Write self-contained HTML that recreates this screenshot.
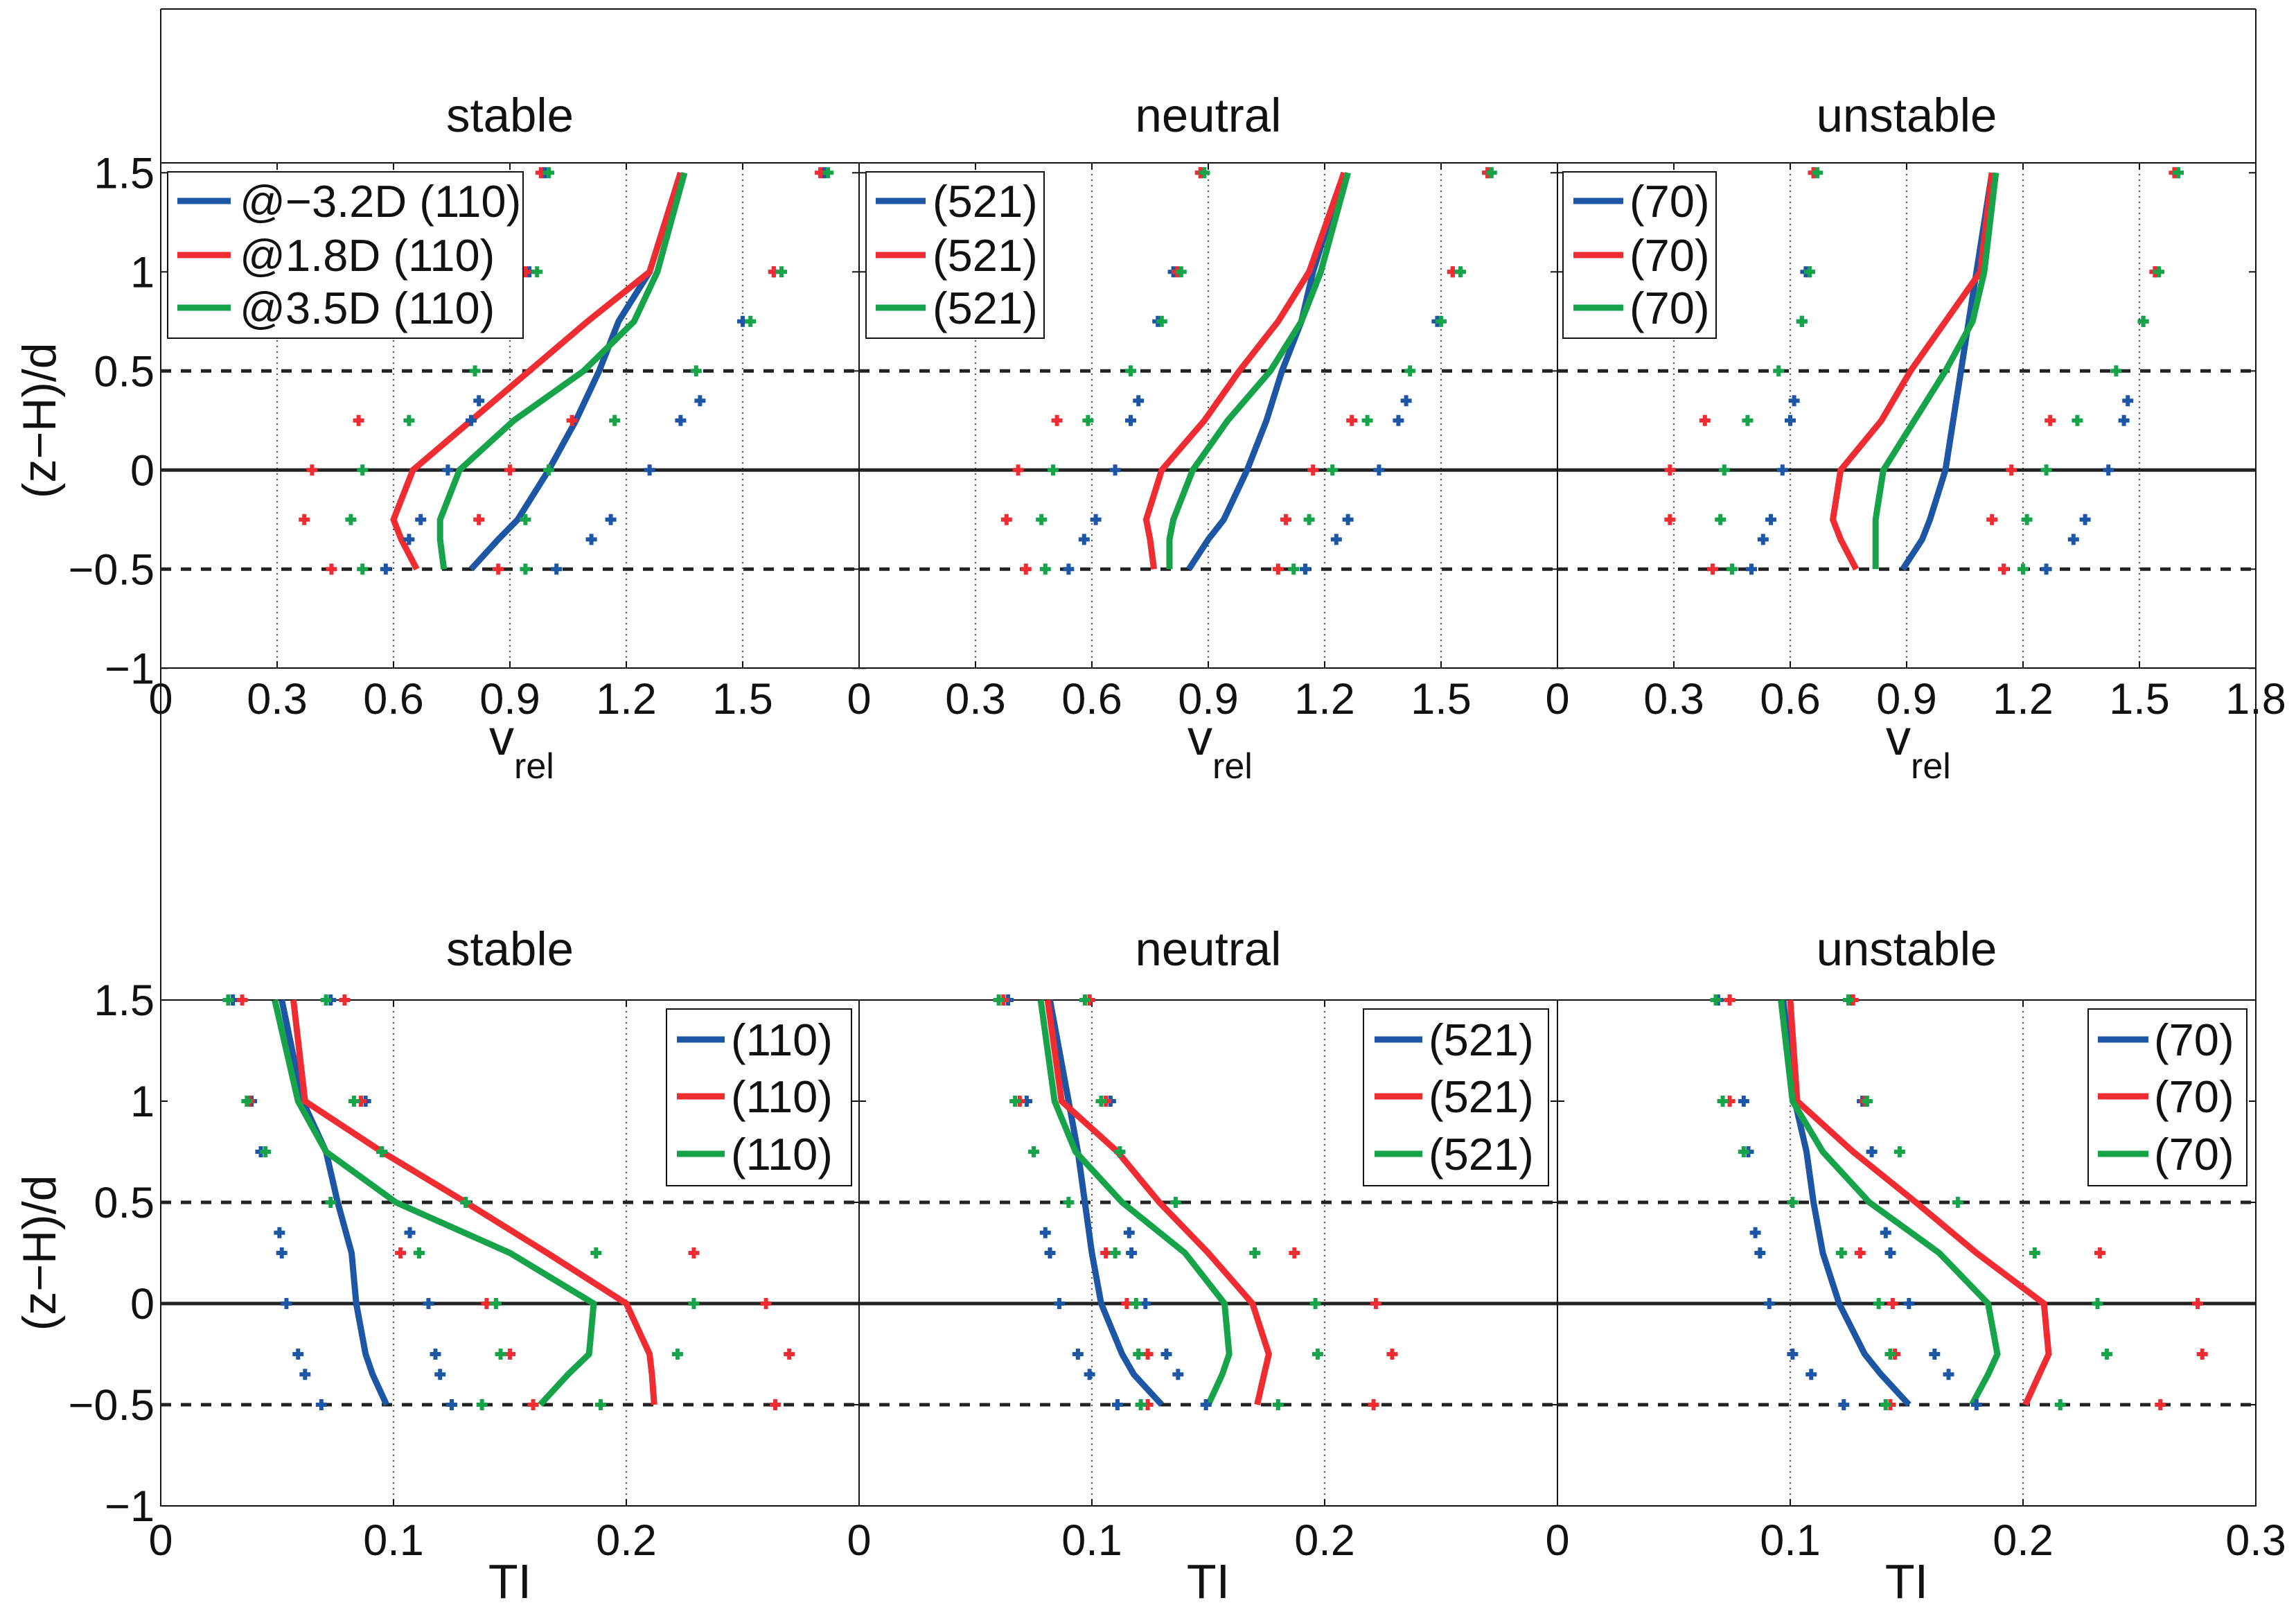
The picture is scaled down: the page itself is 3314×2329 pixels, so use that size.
<!DOCTYPE html>
<html><head><meta charset="utf-8"><style>
html,body{margin:0;padding:0;background:#fff;}
svg{display:block;font-family:"Liberation Sans",Arial,sans-serif;}
</style></head><body>
<svg id="chart" xmlns="http://www.w3.org/2000/svg" width="3314" height="2329" viewBox="0 0 3314 2329"></svg>
<script>
// ---- data ----
const lineZ = [1.5, 1, 0.75, 0.5, 0.25, 0, -0.25, -0.35, -0.5];
const pointZ = [1.5, 1, 0.75, 0.5, 0.35, 0.25, 0, -0.25, -0.35, -0.5];
const panelTitles = ["stable", "neutral", "unstable"];
const vTicks = [0, 0.3, 0.6, 0.9, 1.2, 1.5];
const tiTicks = [0, 0.1, 0.2];
const yTicks = [1.5, 1, 0.5, 0, -0.5, -1];
const yTickLabels = ["1.5", "1", "0.5", "0", "\u22120.5", "\u22121"];
const topLegendLabels = [["@\u22123.2D (110)", "@1.8D (110)", "@3.5D (110)"], ["(521)", "(521)", "(521)"], ["(70)", "(70)", "(70)"]];
const botLegendLabels = [["(110)", "(110)", "(110)"], ["(521)", "(521)", "(521)"], ["(70)", "(70)", "(70)"]];

const vStableBlue = [1.34,1.26,1.18,1.13,1.07,1.00,0.92,0.87,0.80];
const vStableRed = [1.34,1.26,1.10,0.95,0.80,0.65,0.60,0.62,0.66];
const vStableGreen = [1.35,1.28,1.22,1.09,0.91,0.77,0.72,0.72,0.73];
const vNeutralBlue = [1.25,1.17,1.14,1.09,1.05,1.00,0.94,0.90,0.85];
const vNeutralRed = [1.25,1.16,1.08,0.98,0.89,0.78,0.74,0.75,0.76];
const vNeutralGreen = [1.26,1.19,1.14,1.06,0.95,0.86,0.81,0.80,0.80];
const vUnstableBlue = [1.12,1.08,1.06,1.04,1.02,1.00,0.96,0.94,0.89];
const vUnstableRed = [1.12,1.09,1.00,0.91,0.835,0.73,0.71,0.73,0.77];
const vUnstableGreen = [1.13,1.10,1.07,1.00,0.92,0.84,0.82,0.82,0.82];

const vStableBlueLo = [0.99,0.95,0.80,null,0.82,0.80,0.74,0.67,0.64,0.58];
const vStableBlueHi = [1.71,1.58,1.50,null,1.39,1.34,1.26,1.16,1.11,1.02];
const vStableRedLo = [0.98,0.94,null,null,null,0.51,0.39,0.37,null,0.44];
const vStableRedHi = [1.70,1.58,null,null,null,1.06,0.90,0.82,null,0.87];
const vStableGreenLo = [1.00,0.97,0.81,0.81,null,0.64,0.52,0.49,null,0.52];
const vStableGreenHi = [1.72,1.60,1.52,1.38,null,1.17,1.00,0.94,null,0.94];
const vNeutralBlueLo = [0.88,0.81,0.77,null,0.72,0.70,0.66,0.61,0.58,0.54];
const vNeutralBlueHi = [1.62,1.53,1.49,null,1.41,1.39,1.34,1.26,1.23,1.15];
const vNeutralRedLo = [0.88,0.82,null,null,null,0.51,0.41,0.38,null,0.43];
const vNeutralRedHi = [1.62,1.53,null,null,null,1.27,1.17,1.10,null,1.08];
const vNeutralGreenLo = [0.89,0.83,0.78,0.70,null,0.59,0.50,0.47,null,0.48];
const vNeutralGreenHi = [1.63,1.55,1.50,1.42,null,1.31,1.22,1.16,null,1.12];
const vUnstableBlueLo = [0.66,0.64,0.63,null,0.61,0.60,0.58,0.55,0.53,0.50];
const vUnstableBlueHi = [1.60,1.54,1.51,null,1.47,1.46,1.42,1.36,1.33,1.26];
const vUnstableRedLo = [0.66,0.65,null,null,null,0.38,0.29,0.29,null,0.40];
const vUnstableRedHi = [1.59,1.54,null,null,null,1.27,1.17,1.12,null,1.15];
const vUnstableGreenLo = [0.67,0.65,0.63,0.57,null,0.49,0.43,0.42,null,0.45];
const vUnstableGreenHi = [1.60,1.55,1.51,1.44,null,1.34,1.26,1.21,null,1.20];

const tiStableBlue = [0.052,0.061,0.071,0.076,0.082,0.084,0.088,0.091,0.097];
const tiStableRed = [0.057,0.062,0.095,0.131,0.166,0.200,0.210,0.211,0.212];
const tiStableGreen = [0.049,0.059,0.071,0.101,0.150,0.186,0.184,0.175,0.163];
const tiNeutralBlue = [0.082,0.090,0.094,0.097,0.100,0.104,0.113,0.118,0.130];
const tiNeutralRed = [0.081,0.087,0.111,0.129,0.150,0.169,0.176,0.174,0.171];
const tiNeutralGreen = [0.078,0.084,0.093,0.113,0.140,0.157,0.159,0.156,0.150];
const tiUnstableBlue = [0.097,0.102,0.107,0.110,0.114,0.121,0.132,0.139,0.151];
const tiUnstableRed = [0.100,0.103,0.127,0.154,0.180,0.209,0.211,0.207,0.201];
const tiUnstableGreen = [0.096,0.101,0.114,0.134,0.164,0.185,0.189,0.185,0.178];

const tiStableBlueLo = [0.031,0.039,0.043,null,0.051,0.052,0.054,0.059,0.062,0.069];
const tiStableBlueHi = [0.073,0.088,0.095,null,0.107,0.111,0.115,0.118,0.120,0.125];
const tiStableRedLo = [0.035,0.038,null,null,null,0.103,0.140,0.150,null,0.160];
const tiStableRedHi = [0.079,0.086,null,null,null,0.229,0.260,0.270,null,0.264];
const tiStableGreenLo = [0.029,0.037,0.045,0.073,null,0.111,0.144,0.146,null,0.138];
const tiStableGreenHi = [0.071,0.083,0.095,0.131,null,0.187,0.229,0.222,null,0.189];
const tiNeutralBlueLo = [0.064,0.072,null,null,0.080,0.082,0.086,0.094,0.099,0.111];
const tiNeutralBlueHi = [0.099,0.108,0.112,null,0.116,0.117,0.123,0.132,0.137,0.149];
const tiNeutralRedLo = [0.062,0.069,null,null,null,0.106,0.115,0.124,null,0.124];
const tiNeutralRedHi = [0.099,0.106,null,null,null,0.187,0.222,0.229,null,0.221];
const tiNeutralGreenLo = [0.060,0.067,0.075,0.090,null,0.110,0.119,0.120,null,0.121];
const tiNeutralGreenHi = [0.097,0.104,0.112,0.136,null,0.170,0.196,0.197,null,0.180];
const tiUnstableBlueLo = [0.069,0.080,0.082,null,0.085,0.087,0.091,0.101,0.109,0.123];
const tiUnstableBlueHi = [0.126,0.131,0.135,null,0.141,0.143,0.151,0.162,0.168,0.180];
const tiUnstableRedLo = [0.074,0.074,null,null,null,0.130,0.144,0.145,null,0.143];
const tiUnstableRedHi = [0.127,0.132,null,null,null,0.233,0.275,0.277,null,0.259];
const tiUnstableGreenLo = [0.068,0.071,0.080,0.101,null,0.122,0.138,0.143,null,0.141];
const tiUnstableGreenHi = [0.125,0.133,0.147,0.172,null,0.205,0.232,0.236,null,0.216];

// ---- drawing ----
const NS = "http://www.w3.org/2000/svg";
const svg = document.getElementById("chart");
const COLORS = ["#1e56a6", "#ee2c31", "#16a34a"];
const SNAMES = ["blue", "red", "green"];
function mk(tag, attrs, parent) {
  const e = document.createElementNS(NS, tag);
  for (const k in attrs) e.setAttribute(k, attrs[k]);
  (parent || svg).appendChild(e);
  return e;
}
const X0 = 232, PW = 1008;
const TOP = {top: 235, ymaxV: 1.55, yUnit: 286, bottom: 964, xmax: 1.8};
const BOT = {top: 1443, ymaxV: 1.5, yUnit: 292, bottom: 2173, xmax: 0.3};

let fr = mk("line", {x1: X0, y1: 13, x2: X0 + 3 * PW, y2: 13, stroke: "#111", "stroke-width": 2});


fr = mk("line", {x1: X0, y1: 13, x2: X0, y2: 2173, stroke: "#111", "stroke-width": 2});


fr = mk("line", {x1: X0 + 3 * PW, y1: 13, x2: X0 + 3 * PW, y2: 2173, stroke: "#111", "stroke-width": 2});



function plus(g, cx, cy, color) {
  const p = mk("path", {d: `M${cx - 8} ${cy}H${cx + 8}M${cx} ${cy - 8}V${cy + 8}`, stroke: color, "stroke-width": 6, fill: "none"}, g);
  
  
}

function drawRow(cfg, rowName, ticks, tickFmt, lines, points, legendLabels, legendBoxes, titleY, tickLabelY, xlabel) {
  const ys = v => cfg.top + (cfg.ymaxV - v) * cfg.yUnit;
  for (let p = 0; p < 3; p++) {
    const px = X0 + p * PW;
    const xs = v => px + v / cfg.xmax * PW;
    const g = mk("g", {});
    
    
    const t = mk("text", {x: px + PW / 2, y: titleY, "font-size": 69, "text-anchor": "middle", fill: "#111"}, g);
    t.textContent = panelTitles[p];
    
    
    ticks.forEach((tv, i) => {
      const x = xs(tv);
      if (i > 0) {
        const gl = mk("line", {x1: x, y1: cfg.top, x2: x, y2: cfg.bottom, stroke: "#222", "stroke-width": 1.6, "stroke-dasharray": "2 6"}, g);
        
        
        mk("line", {x1: x, y1: cfg.top, x2: x, y2: cfg.top + 10, stroke: "#111", "stroke-width": 2}, g);
        mk("line", {x1: x, y1: cfg.bottom, x2: x, y2: cfg.bottom - 10, stroke: "#111", "stroke-width": 2}, g);
      }
      const tl = mk("text", {x: x, y: tickLabelY, "font-size": 63, "text-anchor": "middle", fill: "#111"}, g);
      tl.textContent = tickFmt[i];
      
      
    });
    if (p === 2) {
      const tl = mk("text", {x: px + PW, y: tickLabelY, "font-size": 63, "text-anchor": "middle", fill: "#111"}, g);
      tl.textContent = cfg.xmax.toString();
      
      
    }
    yTicks.forEach((yv, i) => {
      const y = ys(yv);
      mk("line", {x1: px, y1: y, x2: px + 10, y2: y, stroke: "#111", "stroke-width": 2}, g);
      mk("line", {x1: px + PW, y1: y, x2: px + PW - 10, y2: y, stroke: "#111", "stroke-width": 2}, g);
      if (p === 0) {
        const tl = mk("text", {x: 223, y: y + 22, "font-size": 63, "text-anchor": "end", fill: "#111"}, g);
        tl.textContent = yTickLabels[i];
        
        
      }
    });
    const box = mk("rect", {x: px, y: cfg.top, width: PW, height: cfg.bottom - cfg.top, fill: "none", stroke: "#111", "stroke-width": 2}, g);
    
    
    [0.5, -0.5].forEach(v => {
      const d = mk("line", {x1: px, y1: ys(v), x2: px + PW, y2: ys(v), stroke: "#222", "stroke-width": 5, "stroke-dasharray": "15 14"}, g);
      
      
    });
    const zl = mk("line", {x1: px, y1: ys(0), x2: px + PW, y2: ys(0), stroke: "#222", "stroke-width": 5}, g);
    
    
    for (let s = 0; s < 3; s++) {
      const vals = lines[p][s];
      const d = vals.map((v, i) => (i ? "L" : "M") + xs(v).toFixed(1) + " " + ys(lineZ[i]).toFixed(1)).join("");
      const pl = mk("path", {d: d, fill: "none", stroke: COLORS[s], "stroke-width": 9, "stroke-linejoin": "miter"}, g);
      
      
    }
    for (let s = 0; s < 3; s++) {
      const [lo, hi] = points[p][s];
      pointZ.forEach((z, i) => {
        if (lo[i] != null) plus(g, xs(lo[i]), ys(z), COLORS[s]);
        if (hi[i] != null) plus(g, xs(hi[i]), ys(z), COLORS[s]);
      });
    }
    const lb = legendBoxes[p];
    const lg = mk("g", {}, g);
    
    
    mk("rect", {x: lb.x, y: lb.y, width: lb.w, height: lb.h, fill: "#fff", stroke: "#111", "stroke-width": 2}, lg);
    for (let s = 0; s < 3; s++) {
      const cy = lb.ys[s];
      const ll = mk("line", {x1: lb.lx1, y1: cy, x2: lb.lx2, y2: cy, stroke: COLORS[s], "stroke-width": 9}, lg);
      
      
      const lt = mk("text", {x: lb.tx, y: cy + 23, "font-size": 65, fill: "#111"}, lg);
      lt.textContent = legendLabels[p][s];
      
      
    }
    xlabel(g, px + PW / 2);
  }
  const yc = (ys(1.5) + ys(-1)) / 2;
  const yl = mk("text", {x: 0, y: 0, "font-size": 68, "text-anchor": "middle", fill: "#111", transform: `translate(80 ${yc}) rotate(-90)`});
  yl.textContent = "(z\u2212H)/d";
  
  
}

const vLines = [[vStableBlue, vStableRed, vStableGreen], [vNeutralBlue, vNeutralRed, vNeutralGreen], [vUnstableBlue, vUnstableRed, vUnstableGreen]];
const vPoints = [
  [[vStableBlueLo, vStableBlueHi], [vStableRedLo, vStableRedHi], [vStableGreenLo, vStableGreenHi]],
  [[vNeutralBlueLo, vNeutralBlueHi], [vNeutralRedLo, vNeutralRedHi], [vNeutralGreenLo, vNeutralGreenHi]],
  [[vUnstableBlueLo, vUnstableBlueHi], [vUnstableRedLo, vUnstableRedHi], [vUnstableGreenLo, vUnstableGreenHi]]];
const tiLines = [[tiStableBlue, tiStableRed, tiStableGreen], [tiNeutralBlue, tiNeutralRed, tiNeutralGreen], [tiUnstableBlue, tiUnstableRed, tiUnstableGreen]];
const tiPoints = [
  [[tiStableBlueLo, tiStableBlueHi], [tiStableRedLo, tiStableRedHi], [tiStableGreenLo, tiStableGreenHi]],
  [[tiNeutralBlueLo, tiNeutralBlueHi], [tiNeutralRedLo, tiNeutralRedHi], [tiNeutralGreenLo, tiNeutralGreenHi]],
  [[tiUnstableBlueLo, tiUnstableBlueHi], [tiUnstableRedLo, tiUnstableRedHi], [tiUnstableGreenLo, tiUnstableGreenHi]]];

const topBoxes = [
  {x: 242, y: 248, w: 513, h: 240, lx1: 256, lx2: 333, tx: 346, ys: [290, 368, 444]},
  {x: 1250, y: 248, w: 257, h: 240, lx1: 1264, lx2: 1336, tx: 1346, ys: [290, 368, 444]},
  {x: 2256, y: 248, w: 221, h: 240, lx1: 2271, lx2: 2343, tx: 2352, ys: [290, 368, 444]}];
const botBoxes = [
  {x: 962, y: 1456, w: 267, h: 255, lx1: 977, lx2: 1046, tx: 1055, ys: [1500, 1582, 1665]},
  {x: 1968, y: 1456, w: 267, h: 255, lx1: 1984, lx2: 2053, tx: 2062, ys: [1500, 1582, 1665]},
  {x: 3014, y: 1456, w: 229, h: 255, lx1: 3028, lx2: 3101, tx: 3109, ys: [1500, 1582, 1665]}];

drawRow(TOP, "velocity", vTicks, ["0", "0.3", "0.6", "0.9", "1.2", "1.5"], vLines, vPoints, topLegendLabels, topBoxes, 190, 1030,
  (g, cx) => {
    const t = mk("text", {x: cx - 12, y: 1089, "font-size": 72, "text-anchor": "middle", fill: "#111"}, g);
    t.textContent = "v";
    
    
    const s = mk("text", {x: cx + 6, y: 1123, "font-size": 52, fill: "#111"}, g);
    s.textContent = "rel";
    
    
  });
drawRow(BOT, "turbulence", tiTicks, ["0", "0.1", "0.2"], tiLines, tiPoints, botLegendLabels, botBoxes, 1393, 2244,
  (g, cx) => {
    const t = mk("text", {x: cx, y: 2306, "font-size": 70, "text-anchor": "middle", fill: "#111"}, g);
    t.textContent = "TI";
    
    
  });
</script>
</body></html>
